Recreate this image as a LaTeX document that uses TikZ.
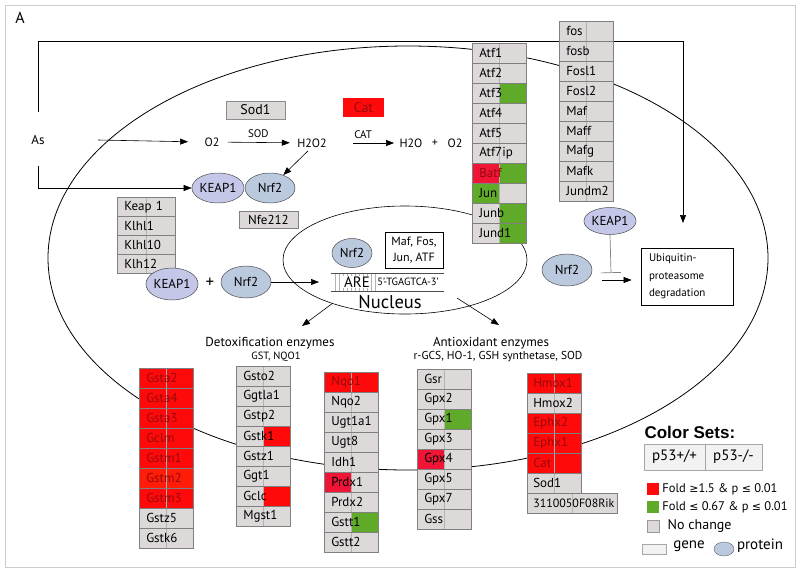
\documentclass[tikz,border=0pt]{standalone}
\usepackage{fontspec}
\setmainfont{PT Sans}
\setsansfont{PT Sans}
\newfontfamily\arialf{Liberation Sans}
\newfontfamily\symf{DejaVu Sans}
\usetikzlibrary{arrows.meta}
\usetikzlibrary{shapes.geometric}
\definecolor{gn}{RGB}{221,217,217}
\definecolor{up}{RGB}{255,10,10}
\definecolor{upx}{RGB}{240,20,55}
\definecolor{dn}{RGB}{95,170,40}
\definecolor{dk}{RGB}{150,10,10}
\definecolor{kp}{RGB}{196,199,232}
\definecolor{nf}{RGB}{186,201,222}
\newcommand*{\fsz}[1]{\fontsize{#1}{#1}\selectfont}
\newcommand*{\rh}{20}
\tikzset{
    gbox/.style 2 args={draw=black!50, line width=.5pt, fill=#1, minimum height=20pt,
        text width=40pt, inner xsep=7pt, inner ysep=0pt, align=left, anchor=north west, font=\fsz{13},
        path picture={\fill[#2] (path picture bounding box.north) rectangle (path picture bounding box.south east);
                      \draw[black!30, line width=.4pt] (path picture bounding box.north) -- (path picture bounding box.south);}},
    prot/.style={ellipse, draw=black!70, line width=.5pt, minimum width=50pt, minimum height=30pt, inner sep=0pt, font=\fsz{13}},
    arr/.style={-{Triangle[length=8pt,width=6pt]}, line width=.6pt},
}

\begin{document}
\begin{tikzpicture}[x=1pt, y=-1pt, font=\sffamily]
    \useasboundingbox (0,0) rectangle (800,574);
    \draw [black!20, line width=1pt] (5,5) rectangle (795,567);
    \node [font=\fsz{16}] (lblA) at (20,18) {A};

    % cell and nucleus
    \draw [line width=.8pt] (408,258) ellipse [x radius=360, y radius=212];
    \draw [line width=.6pt] (405,260) ellipse [x radius=122, y radius=54];

    % reactions
    \node [font=\fsz{13}] (As) at (38,140) {As};
    \node [font=\fsz{12}] (O2a) at (212,142) {O2};
    \node [font=\fsz{12}] (H2O2) at (312,143) {H2O2};
    \node [font=\fsz{12}] (H2O) at (411,143) {H2O};
    \node [font=\fsz{12}] (plusA) at (435,143) {+};
    \node [font=\fsz{12}] (O2b) at (455,143) {O2};
    \node [draw=black!45, fill=gn, minimum width=59pt, minimum height=18pt, inner sep=0pt, font=\fsz{14}] (sodTop) at (255.5,110) {Sod1};
    \node [fill=up, minimum width=41pt, minimum height=19pt, inner sep=0pt, text=dk, font=\fsz{14}] (catTop) at (363.5,107.5) {Cat};
    \draw [arr, shorten >=13pt] ([xshift=50pt]As.east) -- (O2a.west);
    \draw [arr, shorten <=5pt, shorten >=4pt] (O2a) -- node [above=1pt, font=\fsz{11}] (sodLbl) {SOD} (H2O2);
    \draw [arr, shorten <=23pt, shorten >=2pt] (H2O2.east) -- node [above=1pt, font=\fsz{11}] (catLbl) {CAT} (H2O.west);

    % KEAP1 / Nrf2 complex
    \node [prot, fill=kp] (keapA) at (218,188) {KEAP1};
    \node [prot, fill=nf] (nrfA) at (270,188) {Nrf2};
    \draw [arr] ([xshift=-4pt]H2O2.south) -- (nrfA);
    \coordinate (ubIn) at (683,223);
    \draw [arr] ([yshift=20pt]As.north) |- (683,41) -- (ubIn);
    \draw [arr] ([yshift=-18pt]As.south) |- (keapA.west);

    \node [gbox={gn}{gn}, minimum height=19pt, text width=44pt] (kKeap) at (117,197) {\mbox{Keap 1}};
    \node [gbox={gn}{gn}, minimum height=19pt, text width=44pt] (kKlhl1) at (117,216) {\mbox{Klhl1}};
    \node [gbox={gn}{gn}, minimum height=19pt, text width=44pt] (kKlhl10) at (117,235) {\mbox{Klhl10}};
    \node [gbox={gn}{gn}, minimum height=19pt, text width=44pt] (kKlh12) at (117,254) {\mbox{Klh12}};
    \node [draw=black!50, fill=gn, minimum width=59pt, minimum height=17pt, inner sep=0pt, font=\fsz{13}] (nfe) at (268.5,219.5) {Nfe212};

    \node [prot, fill=kp, minimum height=32pt] (keapB) at (172,284) {KEAP1};
    \node [font=\fsz{17}] (plusB) at (210,283) {+};
    \node [prot, fill=nf, minimum height=32pt] (nrfB) at (246,282) {Nrf2};

    % inside the nucleus
    \node [prot, fill=nf, minimum width=40pt, minimum height=29pt] (nrfC) at (352,253) {Nrf2};
    \node [draw, line width=.6pt, align=center, minimum width=58pt, minimum height=36pt, inner sep=2pt, font=\fontsize{12}{16}\selectfont] (mafBox) at (414,250) {Maf, Fos,\\Jun, ATF};
    \foreach \h in {335,339,...,375}
        \draw [black!30] (\h,273) -- (\h,291);
    \draw [black!70] (331,273) -- (444,273);
    \draw [black!70] (331,291) -- (444,291);
    \node [fill=white, inner sep=1pt, font=\fsz{15}] (are) at (357,282) {ARE};
    \node [font=\fsz{10.5}] (seq) at (408,282) {5'-TGAGTCA-3'};
    \node [font=\fsz{18.5}] (nucl) at (390,302) {Nucleus};
    \coordinate (dnaL) at (331,282);
    \draw [arr, shorten >=12pt] (nrfB.east) -- (nrfB.east -| dnaL);

    \coordinate (detS) at (333,303);
    \coordinate (detE) at (302,326);
    \coordinate (antS) at (457,298);
    \coordinate (antE) at (499,325);
    \draw [arr] (detS) -- (detE);
    \draw [arr] (antS) -- (antE);
    \node [font=\fsz{13}] (detox) at (270,343) {Detoxification enzymes};
    \node [font=\fsz{10.5}] (detSub) at (276,357) {GST, NQO1};
    \node [font=\fsz{13}] (antiox) at (491,343) {Antioxidant enzymes};
    \node [font=\fsz{11.5}] (antSub) at (498,357) {r-GCS, HO-1, GSH synthetase, SOD};

    % degradation
    \node [prot, fill=kp, minimum height=27pt] (keapC) at (610,221) {KEAP1};
    \node [prot, fill=nf, minimum height=32pt] (nrfD) at (567,270) {Nrf2};
    \node [draw, line width=.8pt, align=left, text width=76pt, inner xsep=8pt, minimum height=57pt, font=\fontsize{11}{17.5}\selectfont] (ubiq) at (687,276.5) {Ubiquitin-\\proteasome\\degradation};
    \coordinate (inhB) at (611,273);
    \coordinate (inhA) at (602,280);
    \draw [black!50, line width=.7pt, -{Bar[width=20pt]}] (keapC.south) -- (inhB);
    \draw [arr, shorten >=9pt] (inhA) -- (ubiq.west |- inhA);

    % transcription factors
    \foreach \g/\l/\r/\t [count=\i from 0] in {Atf1/gn/gn/black, Atf2/gn/gn/black, Atf3/gn/dn/black, Atf4/gn/gn/black, Atf5/gn/gn/black,
            Atf7ip/gn/gn/black, Batf/upx/dn/dk, Jun/dn/gn/black, Junb/gn/dn/black, Jund1/gn/dn/black}
        \node [gbox={\l}{\r}, text=\t] (a\g) at (472,43+\rh*\i) {\mbox{\g}};
    \foreach \g [count=\i from 0] in {fos, fosb, Fosl1, Fosl2, Maf, Maff, Mafg, Mafk, Jundm2}
        \node [gbox={gn}{gn}] (f\g) at (559,21+\rh*\i) {\mbox{\g}};

    % enzyme columns
    \foreach \g/\l/\r/\t [count=\i from 0] in {Gsta2/up/up/dk, Gsta4/up/up/dk, Gsta3/up/up/dk, Gclm/up/up/dk, Gstm1/up/up/dk,
            Gstm2/up!85!orange/up!85!orange/dk, Gstm3/up/up/dk, Gstz5/gn/gn/black, Gstk6/gn/gn/black}
        \node [gbox={\l}{\r}, text=\t] (d\g) at (139,368+\rh*\i) {\mbox{\g}};
    \foreach \g/\l/\r [count=\i from 0] in {Gsto2/gn/gn, Ggtla1/gn/gn, Gstp2/gn/gn, Gstk1/gn/up, Gstz1/gn/gn,
            Ggt1/gn/gn, Gclc/gn/up, Mgst1/gn/gn}
        \node [gbox={\l}{\r}] (e\g) at (236,366+\rh*\i) {\mbox{\g}};
    \foreach \g/\l/\r/\t [count=\i from 0] in {Nqo1/up/up/dk, Nqo2/gn/gn/black, Ugt1a1/gn/gn/black, Ugt8/gn/gn/black, Idh1/gn/gn/black,
            Prdx1/upx/gn/black, Prdx2/gn/gn/black, Gstt1/gn/dn/black, Gstt2/gn/gn/black}
        \node [gbox={\l}{\r}, text=\t] (n\g) at (324,372+\rh*\i) {\mbox{\g}};
    \foreach \g/\l/\r/\t [count=\i from 0] in {Gsr/gn/gn/black, Gpx2/gn/gn/black, Gpx1/gn/dn/black, Gpx3/gn/gn/black,
            Gpx4/upx/gn/black, Gpx5/gn/gn/black, Gpx7/gn/gn/black, Gss/gn/gn/black}
        \node [gbox={\l}{\r}, text=\t] (x\g) at (417,369+\rh*\i) {\mbox{\g}};
    \foreach \g/\l/\r/\t [count=\i from 0] in {Hmox1/up/up/dk, Hmox2/gn/gn/black, Ephx2/up/up/dk, Ephx1/up/up/dk,
            Cat/up/up/dk, Sod1/gn/gn/black}
        \node [gbox={\l}{\r}, text=\t, inner xsep=6pt, text width=42pt] (h\g) at (527,373+\rh*\i) {\mbox{\g}};
    \node [gbox={gn}{gn}, inner xsep=6pt, text width=78pt, font=\fsz{12}] (hRik) at (527,493) {3110050F08Rik};

    % legend
    \node [anchor=west, font=\arialf\bfseries\fsz{17}] (cset) at (641,432) {Color Sets:};
    \node [draw=black!35, fill=black!5, minimum width=61pt, minimum height=26pt, inner sep=0pt, font=\fsz{15}] (wt) at (674.5,457) {p53+/+};
    \node [draw=black!35, fill=black!5, minimum width=57pt, minimum height=26pt, inner sep=0pt, font=\fsz{15}] (ko) at (733.5,457) {p53-/-};
    \node [fill=up, minimum size=12pt, inner sep=0pt] (lUp) at (653,489) {};
    \node [fill=dn, minimum size=12pt, inner sep=0pt] (lDn) at (653,507) {};
    \node [draw=black!40, fill=gn, minimum size=12pt, inner sep=0pt] (lNo) at (653,526) {};
    \node [anchor=west, font=\fsz{12.5}, inner xsep=2pt] (tUp) at ([xshift=1pt]lUp.east) {Fold {\symf\fsz{11}≥}1.5 \& p {\symf\fsz{11}≤} 0.01};
    \node [anchor=west, font=\fsz{12.5}, inner xsep=2pt] (tDn) at ([xshift=1pt]lDn.east) {Fold {\symf\fsz{11}≤} 0.67 \& p {\symf\fsz{11}≤} 0.01};
    \node [anchor=west, font=\fsz{14}] (tNo) at ([xshift=5pt]lNo.east) {No change};
    \node [draw=black!35, fill=black!5, minimum width=24pt, minimum height=10pt, inner sep=0pt] (lGene) at (654,549) {};
    \node [font=\fsz{15}] (tGene) at (689,546) {gene};
    \node [ellipse, draw=black!60, fill=nf, minimum width=20pt, minimum height=14pt, inner sep=0pt] (lProt) at (724,549) {};
    \node [font=\fsz{15}] (tProt) at (760,546) {protein};
\end{tikzpicture}
\end{document}
